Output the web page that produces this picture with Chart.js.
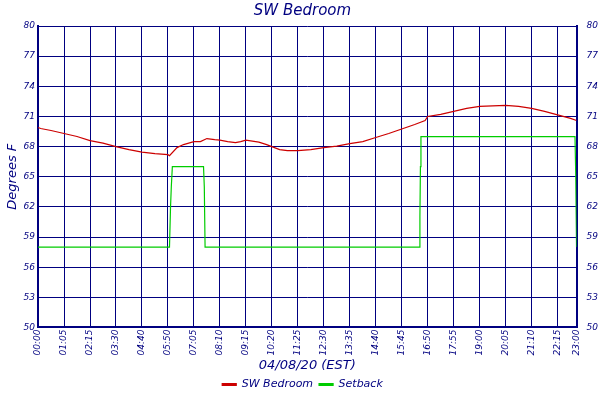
<!DOCTYPE html>
<html><head><meta charset="utf-8">
<script src="https://cdn.jsdelivr.net/npm/chart.js@4"></script>
<style>html,body{margin:0;background:#fff}#w{width:600px;height:400px}</style>
</head><body><div id="w"><canvas id="c"></canvas></div>
<script>
const tickLabels = ["00:00","01:05","02:15","03:30","04:40","05:50","07:05","08:10","09:15","10:20","11:25","12:30","13:35","14:40","15:45","16:50","17:55","19:00","20:05","21:10","22:15","23:00"];
const tickPos = [0,1,2,3,4,5,6,7,8,9,10,11,12,13,14,15,16,17,18,19,20,20.73];
const tempX = [0,0.1,0.5,1,1.5,2,2.5,3,3.5,4,4.5,5,5.06,5.35,5.6,6,6.25,6.5,6.8,7,7.3,7.6,7.8,8,8.5,8.8,9,9.3,9.6,10,10.5,11,11.5,12,12.5,13,13.5,14,14.5,14.9,15,15.5,16,16.5,17,17.5,18,18.5,19,19.5,20,20.5,20.73];
const tempY = [69.9,69.8,69.6,69.3,69.0,68.6,68.35,68.0,67.7,67.45,67.3,67.2,67.1,67.9,68.2,68.5,68.5,68.8,68.7,68.65,68.5,68.4,68.5,68.65,68.45,68.2,68.0,67.7,67.6,67.6,67.7,67.9,68.05,68.3,68.5,68.9,69.3,69.75,70.2,70.6,71.0,71.2,71.5,71.8,72.0,72.05,72.1,72.0,71.8,71.5,71.15,70.8,70.6];
const setbackX = [0,5.06,5.1,5.13,5.17,6.37,6.4,6.43,14.68,14.7,14.72,14.74,20.67,20.7,20.73];
const setbackY = [58,58,62,64,66,66,64,58,58,61,66,69,69,65,58];

const navy = '#000080';
const pts = (xs, ys) => xs.map((x, i) => ({x, y: ys[i]}));
const font = {family: 'DejaVu Sans', style: 'italic', size: 9};
const yTicks = {stepSize: 3, color: navy, font, padding: 3};
new Chart(document.getElementById('c'), {
  type: 'line',
  data: {datasets: [
    {label: 'SW Bedroom', data: pts(tempX, tempY), borderColor: '#cc0000', backgroundColor: '#cc0000', borderWidth: 1.2, pointRadius: 0, tension: 0, yAxisID: 'y'},
    {label: 'Setback', data: pts(setbackX, setbackY), borderColor: '#00cc00', backgroundColor: '#00cc00', borderWidth: 1.2, pointRadius: 0, tension: 0, yAxisID: 'y'}
  ]},
  options: {
    animation: false, responsive: true, maintainAspectRatio: false,
    layout: {padding: {left: 5, right: 0, top: 0, bottom: 0}},
    plugins: {
      title: {display: true, text: 'SW Bedroom', color: navy, font: {family: 'DejaVu Sans', style: 'italic', weight: 'normal', size: 15}, padding: {top: 2, bottom: 6}},
      legend: {position: 'bottom', labels: {color: navy, font: {family: 'DejaVu Sans', style: 'italic', size: 11}, boxWidth: 14, boxHeight: 2, padding: 6}},
      tooltip: {enabled: false}
    },
    scales: {
      x: {type: 'linear', min: 0, max: 20.73,
        afterBuildTicks: s => { s.ticks = tickPos.map(v => ({value: v})); },
        ticks: {color: navy, font, maxRotation: 90, minRotation: 90, autoSkip: false, padding: 2, callback: (v, i) => tickLabels[i]},
        grid: {color: navy, lineWidth: 1, drawTicks: false},
        border: {color: navy, width: 2},
        title: {display: true, text: '04/08/20 (EST)', color: navy, font: {family: 'DejaVu Sans', style: 'italic', size: 13}, padding: {top: 0, bottom: 0}}
      },
      y: {min: 50, max: 80, ticks: yTicks,
        grid: {color: navy, lineWidth: 1, drawTicks: false},
        border: {color: navy, width: 2},
        title: {display: true, text: 'Degrees F', color: navy, font: {family: 'DejaVu Sans', style: 'italic', size: 13}, padding: 0}
      },
      y2: {position: 'right', min: 50, max: 80, ticks: {...yTicks, padding: 2},
        grid: {display: false}, border: {color: navy, width: 2}
      }
    }
  }
});
</script></body></html>
